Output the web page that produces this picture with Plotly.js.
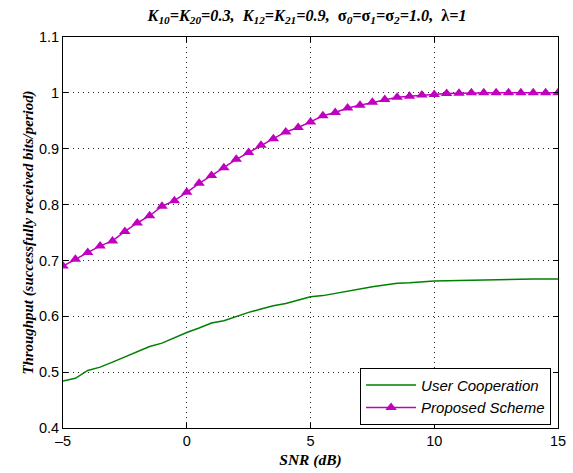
<!DOCTYPE html>
<html>
<head>
<meta charset="utf-8">
<script src="https://cdn.plot.ly/plotly-3.0.1.min.js"></script>
<style>html,body{margin:0;padding:0;background:#fff;}#chart{width:573px;height:473px;}</style>
</head>
<body>
<div id="chart"></div>
<script>
var snr = [-5,-4.5,-4,-3.5,-3,-2.5,-2,-1.5,-1,-0.5,0,0.5,1,1.5,2,2.5,3,3.5,4,4.5,5,5.5,6,6.5,7,7.5,8,8.5,9,9.5,10,10.5,11,11.5,12,12.5,13,13.5,14,14.5,15];
var userCooperation = [0.484,0.489,0.503,0.509,0.518,0.527,0.536,0.546,0.552,0.562,0.571,0.579,0.588,0.592,0.600,0.607,0.613,0.619,0.623,0.629,0.635,0.637,0.641,0.646,0.650,0.653,0.656,0.659,0.660,0.662,0.663,0.6635,0.664,0.665,0.6655,0.666,0.666,0.6665,0.6666,0.6666,0.6667];
var proposedScheme = [0.690,0.702,0.714,0.726,0.735,0.752,0.767,0.780,0.797,0.807,0.822,0.838,0.852,0.866,0.881,0.893,0.906,0.918,0.930,0.938,0.948,0.959,0.965,0.973,0.978,0.983,0.988,0.992,0.994,0.996,0.997,0.999,0.9995,1.0,1.0,1.0,1.0,1.0,1.0,1.0,1.0];
var seriesNames = ["User Cooperation", "Proposed Scheme"];
var xTicks = [-5,0,5,10,15];
var xTickLabels = ["\u20135","0","5","10","15"];
var yTicks = [0.4,0.5,0.6,0.7,0.8,0.9,1.0,1.1];
var yTickLabels = ["0.4","0.5","0.6","0.7","0.8","0.9","1","1.1"];

var nb = "\u00a0";
var titleText = "<b><i>K<sub>10</sub>=K<sub>20</sub>=0.3," + nb + nb + "K<sub>12</sub>=K<sub>21</sub>=0.9," + nb + nb +
  "</i>σ<sub><i>0</i></sub><i>=</i>σ<sub><i>1</i></sub><i>=</i>σ<sub><i>2</i></sub><i>=1.0," + nb + nb + "</i>λ<i>=1</i></b>";

var traces = [
  {x: snr, y: userCooperation, name: seriesNames[0], type: 'scatter', mode: 'lines',
   line: {color: '#008000', width: 1.5}},
  {x: snr, y: proposedScheme, name: seriesNames[1], type: 'scatter', mode: 'lines+markers',
   line: {color: '#bf00bf', width: 1.5},
   marker: {symbol: 'triangle-up', size: 10, color: '#bf00bf'}}
];

var axisCommon = {
  showline: true, linecolor: '#000', linewidth: 1, mirror: 'ticks',
  ticks: 'inside', ticklen: 5, tickcolor: '#000', tickwidth: 1,
  showgrid: true, gridcolor: '#222', gridwidth: 1, griddash: '1px,4px',
  zeroline: false,
  tickfont: {family: 'Liberation Sans, Arial, sans-serif', size: 14.5, color: '#000'}
};

var layout = {
  width: 573, height: 473,
  margin: {l: 63, r: 15, t: 37, b: 45},
  paper_bgcolor: '#fff', plot_bgcolor: '#fff',
  showlegend: true,
  title: {text: titleText, x: 0.536, xanchor: 'center', y: 0.968, yanchor: 'middle',
          font: {family: 'Liberation Serif, Times New Roman, serif', size: 16.2, color: '#000'}},
  xaxis: Object.assign({}, axisCommon, {
    range: [-5, 15], tickvals: xTicks, ticktext: xTickLabels,
    title: {text: '<b><i>SNR (dB)</i></b>', standoff: 5,
            font: {family: 'Liberation Serif, Times New Roman, serif', size: 15.5, color: '#000'}}
  }),
  yaxis: Object.assign({}, axisCommon, {
    range: [0.4, 1.1], tickvals: yTicks, ticktext: yTickLabels,
    title: {text: '<b><i>Throughput (successfully received bits/period)</i></b>', standoff: 1,
            font: {family: 'Liberation Serif, Times New Roman, serif', size: 14.9, color: '#000'}}
  }),
  legend: {x: 0.986, xanchor: 'right', y: 0.008, yanchor: 'bottom',
           bgcolor: '#fff', bordercolor: '#000', borderwidth: 1,
           font: {family: 'Liberation Sans, Arial, sans-serif', size: 15, color: '#000', style: 'italic'},
           tracegroupgap: 0, itemwidth: 50}
};

Plotly.newPlot('chart', traces, layout, {displayModeBar: false, staticPlot: true});
</script>
</body>
</html>
